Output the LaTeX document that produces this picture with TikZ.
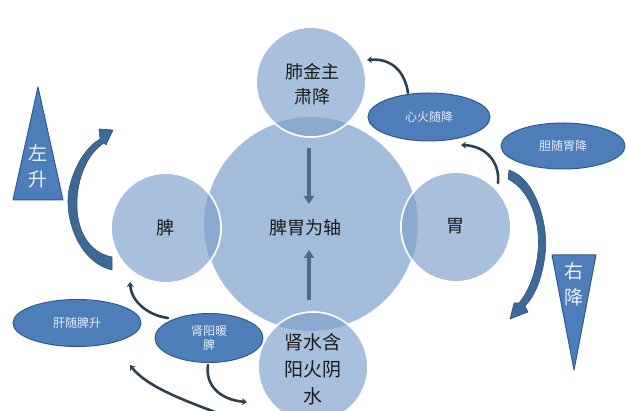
\documentclass[tikz,border=0pt]{standalone}
\usepackage{fontspec}
\newfontfamily\cjk{Noto Sans CJK SC}
\usetikzlibrary{shapes.geometric,arrows.meta}
\definecolor{circfill}{HTML}{A8C0DE}
\definecolor{bigfill}{HTML}{A4BCDB}
\definecolor{lensfill}{HTML}{8CA9D0}
\definecolor{ellfill}{HTML}{4D7EB9}
\definecolor{elldraw}{HTML}{2F5C8E}
\definecolor{arrowc}{HTML}{3E6898}
\definecolor{thinc}{HTML}{2E3F52}
\definecolor{inarrow}{HTML}{4C6A92}
\definecolor{txt}{HTML}{1A1A1A}
\begin{document}
\begin{tikzpicture}[x=1pt,y=-1pt,
  organ/.style={circle, fill=circfill, draw=white, line width=1.5pt, inner sep=0pt, minimum size=110pt},
  organtext/.style={text=txt, font=\cjk\fontsize{18}{25}\selectfont, align=center, inner sep=0pt},
  oval/.style={ellipse, fill=ellfill, draw=elldraw, line width=1pt, inner sep=0pt,
    text=white!85!ellfill, font=\cjk\fontsize{12}{14}\selectfont, align=center},
  tri/.style={fill=ellfill, draw=elldraw, line width=1pt, line join=round},
  tritext/.style={text=white!90!ellfill, font=\cjk\fontsize{19}{26}\selectfont, align=center, inner sep=0pt},
  thin/.style={draw=thinc, line width=2.6pt, line cap=round, -{Stealth[length=5pt,width=7pt]}},
  inner/.style={draw=inarrow, line width=3.5pt, -{Triangle[length=8pt,width=10pt]}},
  big/.style={fill=arrowc, draw=arrowc!80!black, line width=0.6pt, line join=round}
]
\useasboundingbox (0,0) rectangle (626,411);
\clip (0,0) rectangle (626,411);
\fill[white] (0,0) rectangle (626,411);

% circles
\node[organ, fill=bigfill, minimum size=214pt] (axis) at (311,224) {};
\node[organ] (lung) at (311,82) {};
\node[organ] (spleen) at (166,228) {};
\node[organ] (stomach) at (456,227) {};
\node[organ] (kidney) at (313,367) {};

% overlaps
\begin{scope}
  \clip (axis.center) circle[radius=107pt];
  \foreach \n in {lung,spleen,stomach,kidney}
    \fill[lensfill] (\n.center) circle[radius=55pt];
\end{scope}
\foreach \n in {lung,spleen,stomach,kidney}
  \draw[white, line width=1.5pt] (\n.center) circle[radius=55pt];

% texts in circles
\node[organtext] (tAxis) at (305,228) {脾胃为轴};
\node[organtext] (tLung) at (312,84) {肺金主\\肃降};
\node[organtext] (tSpleen) at (165,228) {脾};
\node[organtext] (tStomach) at (455,226) {胃};
\node[organtext, font=\cjk\fontsize{19}{27}\selectfont] (tKidney) at (313,369) {肾水含\\阳火阴\\水};

% inner arrows
\coordinate (d1) at (309,148); \coordinate (d2) at (309,204);
\coordinate (u1) at (309,300); \coordinate (u2) at (309,250);
\draw[inner] (d1) -- (d2);
\draw[inner] (u1) -- (u2);

% ellipses
\node[oval, minimum width=122pt, minimum height=48pt] (heart) at (429,117) {心火随降};
\node[oval, minimum width=124pt, minimum height=46pt] (gall) at (563,146) {胆随胃降};
\node[oval, minimum width=128pt, minimum height=47pt] (liver) at (77,323) {肝随脾升};
\node[oval, minimum width=108pt, minimum height=49pt] (kyang) at (209,338) {肾阳暖\\脾};

% triangles
\draw[tri] (38,87) -- (63,200) -- (13,200) -- cycle;
\node[tritext] (tl) at (38,166) {左\\升};
\draw[tri] (552,255) -- (596,255) -- (574,370) -- cycle;
\node[tritext] (tr) at (574,284) {右\\降};

% big tapered arrows
\draw[big] (112,270) .. controls (78,262) and (62,215) .. (70,185)
  .. controls (76,162) and (88,146) .. (100,139)
  -- (99,129) -- (113,130) -- (106,145) -- (104,143)
  .. controls (90,152) and (81,170) .. (78,190)
  .. controls (73,225) and (86,252) .. (112,257) -- cycle;
\draw[big] (509,170) .. controls (537,179) and (549,228) .. (545,255)
  .. controls (542,280) and (534,297) .. (525,306)
  -- (528,312) -- (510,319) -- (514,303) -- (519,303)
  .. controls (529,291) and (536,272) .. (538,252)
  .. controls (541,222) and (530,190) .. (508,179) -- cycle;

% thin curved arrows
\coordinate (a1) at (408,93);  \coordinate (a2) at (367,60);
\coordinate (b1) at (498,183); \coordinate (b2) at (461,145);
\coordinate (c1) at (168,318); \coordinate (c2) at (130,282);
\coordinate (e1) at (226,416); \coordinate (e2) at (130,365);
\coordinate (f1) at (208,365); \coordinate (f2) at (247,402);
\draw[thin] (a1) .. controls (405,72) and (392,58) .. (a2);
\draw[thin] (b1) .. controls (500,162) and (486,146) .. (b2);
\draw[thin] (c1) .. controls (146,315) and (131,300) .. (c2);
\draw[thin] (e1) .. controls (182,400) and (146,386) .. (e2);
\draw[thin] (f1) .. controls (205,385) and (220,400) .. (f2);
\end{tikzpicture}
\end{document}
